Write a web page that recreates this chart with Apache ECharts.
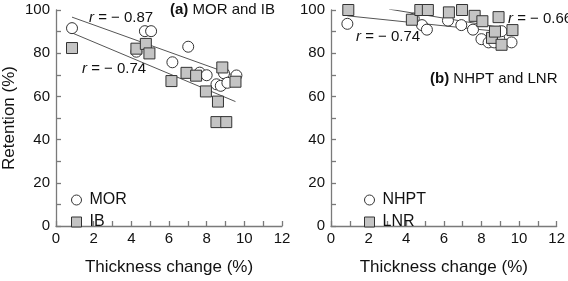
<!DOCTYPE html>
<html><head><meta charset="utf-8">
<script src="https://cdn.jsdelivr.net/npm/echarts@6/dist/echarts.min.js"></script>
<style>html,body{margin:0;padding:0;background:#fff}#c{width:568px;height:281px}</style>
</head><body><div id="c"></div>
<script>
// ---- data (thickness change %, retention %) ----
var morX = [0.85, 4.27, 4.72, 5.05, 6.18, 7.02, 7.63, 8.0, 8.52, 8.75, 8.92, 9.1, 9.58];
var morY = [91.6, 80.7, 90.2, 90.2, 75.8, 83.0, 71.0, 69.8, 65.6, 64.9, 70.7, 66.3, 69.7];
var ibX = [0.85, 4.27, 4.77, 4.96, 6.13, 6.93, 7.44, 7.96, 8.6, 8.83, 8.52, 9.04, 9.53];
var ibY = [82.4, 82.1, 84.3, 79.9, 67.1, 70.9, 69.6, 62.3, 57.6, 73.4, 48.1, 48.1, 66.8];
var nhptX = [0.87, 4.4, 4.84, 5.1, 6.22, 6.93, 7.55, 8.0, 8.38, 8.68, 8.94, 9.07, 9.6];
var nhptY = [93.6, 96.0, 93.0, 90.9, 95.1, 93.0, 90.9, 86.5, 85.0, 85.0, 86.8, 90.2, 85.0];
var lnrX = [0.92, 4.3, 4.75, 5.15, 6.27, 6.97, 7.64, 8.05, 8.56, 8.72, 8.91, 9.07, 9.65];
var lnrY = [100, 95.5, 100, 100, 98.9, 100, 97.3, 94.8, 87.1, 90.0, 96.7, 83.9, 90.7];
// regression line endpoints
var morFitX = [0.85, 9.6],  morFitY = [96.7, 69.3];
var ibFitX = [0.85, 9.53],  ibFitY = [89.4, 57.6];
var nhptFitX = [0.87, 9.3], nhptFitY = [97.3, 89.7];
var lnrFitX = [3.09, 9.1],  lnrFitY = [100.4, 91.8];
var xTicks = [0, 2, 4, 6, 8, 10, 12];
var yTicks = [0, 20, 40, 60, 80, 100];

function pairs(xs, ys){ return xs.map(function(x,i){ return [x, ys[i]]; }); }

var FONT = 'Liberation Sans, Arial, sans-serif';
var axisCol = '#7a7a7a';
function xAx(gi){
  return {type:'value', gridIndex:gi, min:xTicks[0], max:xTicks[xTicks.length-1], interval:2,
    name:'Thickness change (%)', nameLocation:'middle', nameGap:33,
    nameTextStyle:{fontFamily:FONT, fontSize:17, color:'#111'},
    axisLine:{lineStyle:{color:axisCol, width:1.3}},
    axisTick:{inside:true, length:5, lineStyle:{color:axisCol, width:1.3}},
    minorTick:{show:true, splitNumber:2, length:5, lineStyle:{color:axisCol, width:1.3}},
    splitLine:{show:false},
    axisLabel:{fontFamily:FONT, fontSize:15, color:'#111', margin:5}};
}
function yAx(gi, named){
  return {type:'value', gridIndex:gi, min:yTicks[0], max:yTicks[yTicks.length-1], interval:20,
    name: named ? 'Retention (%)' : '', nameLocation:'middle', nameGap:38, nameRotate:90,
    nameTextStyle:{fontFamily:FONT, fontSize:17, color:'#111'},
    axisLine:{show:true, lineStyle:{color:axisCol, width:1.3}},
    axisTick:{show:true, inside:true, length:5, lineStyle:{color:axisCol, width:1.3}},
    minorTick:{show:true, splitNumber:2, length:5, lineStyle:{color:axisCol, width:1.3}},
    splitLine:{show:false},
    axisLabel:{fontFamily:FONT, fontSize:15, color:'#111', margin:6}};
}
function scatter(name, xs, ys, gi, sym, fill){
  return {name:name, type:'scatter', xAxisIndex:gi, yAxisIndex:gi, data:pairs(xs,ys),
    symbol:sym, symbolSize:11,
    itemStyle:{color:fill, borderColor:'#333', borderWidth:1, opacity:1}};
}
function fit(xs, ys, gi){
  return {type:'line', xAxisIndex:gi, yAxisIndex:gi, data:pairs(xs,ys), symbol:'none',
    lineStyle:{color:'#555', width:1}, silent:true, z:1};
}
var sqFill = '#c4c4c4';
var rich = {i:{fontStyle:'italic', fontFamily:FONT, fontSize:15, fill:'#111'}};
function rText(x, y, v){
  return {type:'text', left:x, top:y, style:{text:'{i|r} = − ' + v, rich:rich, font:'15px ' + FONT, fill:'#111'}};
}
function legendCfg(left, names){
  return {left:left, top:187, orient:'vertical', itemGap:6, itemWidth:10, itemHeight:10,
    data:names, itemStyle:{borderWidth:1, borderColor:'#333'},
    textStyle:{fontFamily:FONT, fontSize:16, color:'#111', padding:[0,0,0,3]}};
}
var option = {
  animation:false,
  grid:[{left:53, top:10, width:229, height:228.5},
        {left:331, top:10, width:229, height:228.5}],
  xAxis:[xAx(0), xAx(1)],
  yAxis:[yAx(0, true), yAx(1, false)],
  legend:[legendCfg(66, ['MOR','IB']), legendCfg(359, ['NHPT','LNR'])],
  series:[
    fit(morFitX, morFitY, 0), fit(ibFitX, ibFitY, 0),
    fit(nhptFitX, nhptFitY, 1), fit(lnrFitX, lnrFitY, 1),
    scatter('MOR', morX, morY, 0, 'circle', '#fff'),
    scatter('IB', ibX, ibY, 0, 'rect', sqFill),
    scatter('NHPT', nhptX, nhptY, 1, 'circle', '#fff'),
    scatter('LNR', lnrX, lnrY, 1, 'rect', sqFill)
  ],
  graphic:[
    rText(89, 10, '0.87'),
    rText(82, 61, '0.74'),
    rText(356, 29, '0.74'),
    rText(508, 11, '0.66'),
    {type:'text', left:170, top:2, style:{text:'{b|(a)} MOR and IB',
      rich:{b:{fontWeight:'bold', fontFamily:FONT, fontSize:15, fill:'#111'}}, font:'15px ' + FONT, fill:'#111'}},
    {type:'text', left:430, top:71, style:{text:'{b|(b)} NHPT and LNR',
      rich:{b:{fontWeight:'bold', fontFamily:FONT, fontSize:15, fill:'#111'}}, font:'15px ' + FONT, fill:'#111'}}
  ]
};
echarts.init(document.getElementById('c')).setOption(option);
</script></body></html>
